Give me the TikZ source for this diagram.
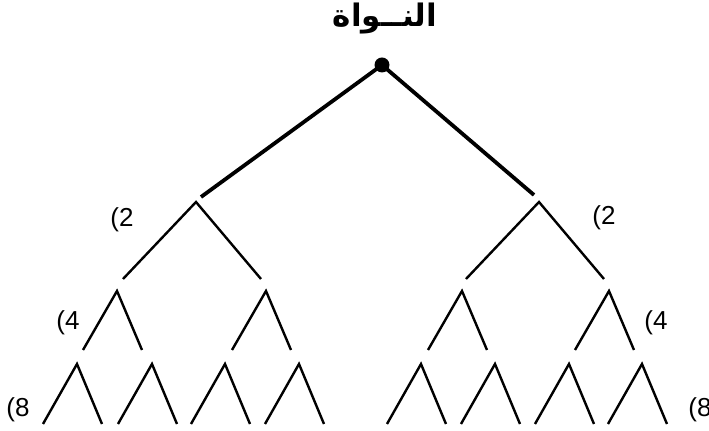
\documentclass[tikz,border=0pt]{standalone}
\usepackage{fontspec}
\setmainfont{Liberation Sans}
\newfontfamily\arabicfont[Script=Arabic]{DejaVu Sans}
\TeXXeTstate=1
\usetikzlibrary{positioning}

\begin{document}
\begin{tikzpicture}[x=0.5pt, y=-0.5pt,
    branch/.style={line width=1.2pt, black},
    trunk/.style={line width=1.9pt, black},
    lvl/.style={font=\fontsize{13}{15}\selectfont, inner sep=0pt}]
  \useasboundingbox (0,0) rectangle (709,431);

  % title and root dot
  \node[font=\arabicfont\bfseries\fontsize{15.5}{18}\selectfont] (title) at (385,19)
    {\beginR النــواة\endR};
  \node[circle, fill=black, inner sep=0pt, minimum size=7.5pt] (root) at (382,65) {};

  % thick trunks (free ends)
  \coordinate (trunkl) at (201,197);
  \coordinate (trunkr) at (534,195);
  \draw[trunk] (root.center) -- (trunkl);
  \draw[trunk] (root.center) -- (trunkr);

  % level 2
  \foreach \x/\n in {196/a,539/b}{
    \coordinate (two\n) at (\x,202);
    \coordinate (two\n l) at (\x-73,279);
    \coordinate (two\n r) at (\x+65,279);
    \draw[branch] (two\n l) -- (two\n) -- (two\n r);
  }

  % level 3
  \foreach \x [count=\k] in {117,266,462,609}{
    \coordinate (three\k) at (\x,291);
    \coordinate (three\k l) at (\x-34,350);
    \coordinate (three\k r) at (\x+25,350);
    \draw[branch] (three\k l) -- (three\k) -- (three\k r);
  }

  % level 4
  \foreach \x [count=\k] in {77,152,225,299,421,495,569,642}{
    \coordinate (four\k) at (\x,364);
    \coordinate (four\k l) at (\x-34,424);
    \coordinate (four\k r) at (\x+25,424);
    \draw[branch] (four\k l) -- (four\k) -- (four\k r);
  }

  % level counts
  \node[lvl] (twoL) at (122,220) {(2};
  \node[lvl] (twoR) at (604,218) {(2};
  \node[lvl] (fourL) at (68,323) {(4};
  \node[lvl] (fourR) at (656,323) {(4};
  \node[lvl] (eightL) at (18,410) {(8};
  \node[lvl] (eightR) at (700,410) {(8};
\end{tikzpicture}
\end{document}
